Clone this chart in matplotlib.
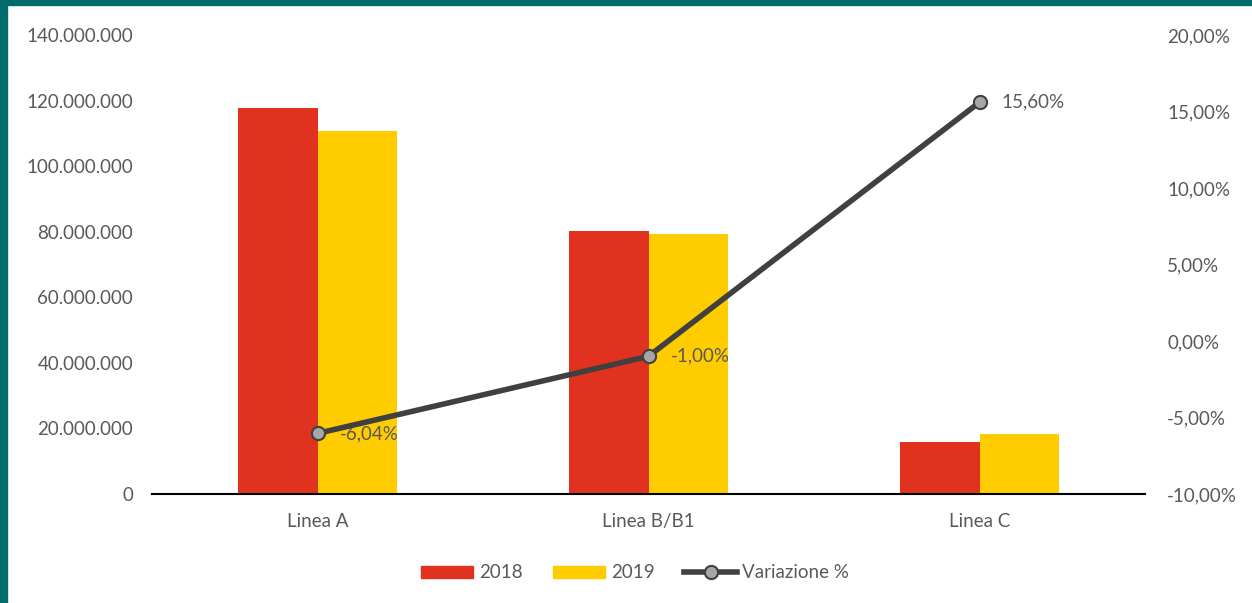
import matplotlib.pyplot as plt
from matplotlib.patches import Rectangle
from matplotlib.ticker import FuncFormatter
from matplotlib.lines import Line2D
from matplotlib.patches import Patch

categories = ["Linea A", "Linea B/B1", "Linea C"]
values_2018 = [117_700_000, 80_200_000, 15_860_000]
values_2019 = [110_590_000, 79_400_000, 18_330_000]
variazione = [-6.04, -1.00, 15.60]
left_ticks = [0, 20_000_000, 40_000_000, 60_000_000, 80_000_000, 100_000_000, 120_000_000, 140_000_000]
right_ticks = [-10, -5, 0, 5, 10, 15, 20]

RED = "#E0321F"
YELLOW = "#FFCC00"
LINE = "#404040"
MARKER = "#A6A6A6"
TEXT = "#595959"
TEAL = "#006B6B"

plt.rcParams["font.family"] = ["Lato", "DejaVu Sans"]
FS = 13.5

fig = plt.figure(figsize=(12.52, 6.03), dpi=100)
W, H = 1252, 603
ax = fig.add_axes([152 / W, 1 - 494 / H, (1145 - 152) / W, (494 - 35) / H])
ax2 = ax.twinx()

x = list(range(len(categories)))
bw = 0.24
ax.bar([i - bw / 2 for i in x], values_2018, width=bw, color=RED, label="2018", zorder=2)
ax.bar([i + bw / 2 for i in x], values_2019, width=bw, color=YELLOW, label="2019", zorder=2)
ax.set_xlim(-0.5, 2.5)
ax.set_ylim(0, 140_000_000)
ax.set_yticks(left_ticks)
ax.yaxis.set_major_formatter(FuncFormatter(lambda v, p: f"{int(v):,}".replace(",", ".")))
ax.set_xticks(x)
ax.set_xticklabels(categories)

ax2.plot(x, variazione, color=LINE, lw=4, marker="o", ms=9.5,
         markerfacecolor=MARKER, markeredgecolor=LINE, markeredgewidth=1.5,
         solid_capstyle="round", zorder=5)
ax2.set_ylim(-10, 20)
ax2.set_yticks(right_ticks)
ax2.yaxis.set_major_formatter(FuncFormatter(lambda v, p: f"{v:.2f}%".replace(".", ",")))
for xi, v in zip(x, variazione):
    ax2.annotate(f"{v:.2f}%".replace(".", ","), (xi, v), xytext=(16, 0),
                 textcoords="offset points", va="center", ha="left",
                 color=TEXT, fontsize=FS)

for a in (ax, ax2):
    for s in a.spines.values():
        s.set_visible(False)
    a.tick_params(length=0, labelsize=FS, colors=TEXT)
ax.spines["bottom"].set_visible(True)
ax.spines["bottom"].set_color("black")
ax.spines["bottom"].set_linewidth(1.5)
ax.tick_params(axis="y", pad=13.5)
ax.tick_params(axis="x", pad=14)
ax2.tick_params(axis="y", pad=16)
ax.set_zorder(ax2.get_zorder() - 1)
ax2.patch.set_visible(False)

handles = [Patch(color=RED, label="2018"), Patch(color=YELLOW, label="2019"),
           Line2D([], [], color=LINE, lw=4, marker="o", ms=9.5, markerfacecolor=MARKER,
                  markeredgecolor=LINE, markeredgewidth=1.5, label="Variazione %")]
leg = fig.legend(handles=handles, loc="center", bbox_to_anchor=(635 / W, 1 - 573 / H),
                 ncol=3, frameon=False, fontsize=FS, handlelength=2.8, handleheight=0.62,
                 handletextpad=0.3, columnspacing=1.6, labelcolor=TEXT)

# frame accents
fig.patches.append(Rectangle((0, 0), 7 / W, 1, transform=fig.transFigure, color=TEAL, zorder=10))
fig.patches.append(Rectangle((0, 1 - 5 / H), 1, 5 / H, transform=fig.transFigure, color=TEAL, zorder=10))

fig.savefig("out.png", dpi=100)
